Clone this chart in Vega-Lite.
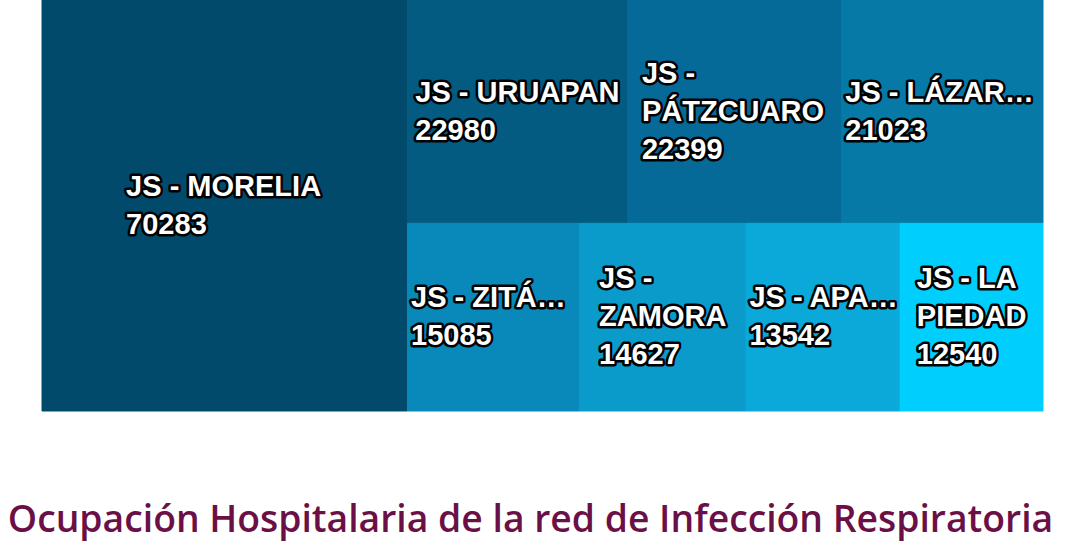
{
  "$schema": "https://vega.github.io/schema/vega-lite/v6.json",
  "width": 1001,
  "height": 411,
  "autosize": {"type": "none"},
  "padding": {"left": 42, "top": 0, "right": 47, "bottom": 139},
  "background": "white",
  "config": {"view": {"stroke": null}},
  "title": {
    "text": "Ocupación Hospitalaria de la red de Infección Respiratoria",
    "orient": "bottom",
    "anchor": "middle",
    "dx": -12,
    "offset": 120,
    "font": "Open Sans",
    "fontWeight": 600,
    "fontSize": 37.3,
    "color": "#6b1046",
    "baseline": "alphabetic"
  },
  "data": {
    "values": [
      {"jurisdiccion": "JS - MORELIA", "etiqueta": "JS - MORELIA", "ocupacion": 70283},
      {"jurisdiccion": "JS - URUAPAN", "etiqueta": "JS - URUAPAN", "ocupacion": 22980},
      {"jurisdiccion": "JS - PÁTZCUARO", "etiqueta": "JS -\nPÁTZCUARO", "ocupacion": 22399},
      {"jurisdiccion": "JS - LÁZARO CÁRDENAS", "etiqueta": "JS - LÁZARO CÁRDENAS", "ocupacion": 21023},
      {"jurisdiccion": "JS - ZITÁCUARO", "etiqueta": "JS - ZITÁCUARO", "ocupacion": 15085},
      {"jurisdiccion": "JS - ZAMORA", "etiqueta": "JS -\nZAMORA", "ocupacion": 14627},
      {"jurisdiccion": "JS - APATZINGÁN", "etiqueta": "JS - APATZINGÁN", "ocupacion": 13542},
      {"jurisdiccion": "JS - LA PIEDAD", "etiqueta": "JS - LA\nPIEDAD", "ocupacion": 12540}
    ]
  },
  "transform": [
    {"window": [{"op": "row_number", "as": "rango"}], "sort": [{"field": "ocupacion", "order": "descending"}]},
    {"calculate": "datum.rango == 1 ? 'A' : (datum.rango <= 4 ? 'B' : 'C')", "as": "grupo"},
    {"joinaggregate": [{"op": "sum", "field": "ocupacion", "as": "total"}]},
    {"joinaggregate": [{"op": "sum", "field": "ocupacion", "as": "sumGrupo"}], "groupby": ["grupo"]},
    {"window": [{"op": "sum", "field": "ocupacion", "as": "acum"}], "groupby": ["grupo"], "sort": [{"field": "ocupacion", "order": "descending"}], "frame": [null, 0]},
    {"calculate": "datum.grupo == 'A' ? datum.ocupacion : 0", "as": "vA"},
    {"calculate": "datum.grupo == 'B' ? datum.ocupacion : 0", "as": "vB"},
    {"joinaggregate": [{"op": "sum", "field": "vA", "as": "sumA"}, {"op": "sum", "field": "vB", "as": "sumB"}]},
    {"calculate": "datum.sumA / datum.total", "as": "fA"},
    {"calculate": "datum.sumB / (datum.total - datum.sumA)", "as": "fB"},
    {"calculate": "datum.grupo == 'A' ? 0 : datum.fA + (1 - datum.fA) * (datum.acum - datum.ocupacion) / datum.sumGrupo", "as": "x0"},
    {"calculate": "datum.grupo == 'A' ? datum.fA : datum.fA + (1 - datum.fA) * datum.acum / datum.sumGrupo", "as": "x1"},
    {"calculate": "datum.grupo == 'C' ? datum.fB : 0", "as": "y0"},
    {"calculate": "datum.grupo == 'B' ? datum.fB : 1", "as": "y1"},
    {"calculate": "(datum.y0 + datum.y1) / 2", "as": "yc"}
  ],
  "layer": [
    {
      "mark": {"type": "rect", "strokeWidth": 1},
      "encoding": {
        "x": {"field": "x0", "type": "quantitative", "scale": {"domain": [0, 1], "nice": false, "zero": false}, "axis": null},
        "x2": {"field": "x1"},
        "y": {"field": "y0", "type": "quantitative", "scale": {"domain": [0, 1], "nice": false, "zero": false, "reverse": true}, "axis": null},
        "y2": {"field": "y1"},
        "color": {
          "field": "jurisdiccion",
          "type": "nominal",
          "legend": null,
          "scale": {
            "domain": ["JS - MORELIA", "JS - URUAPAN", "JS - PÁTZCUARO", "JS - LÁZARO CÁRDENAS", "JS - ZITÁCUARO", "JS - ZAMORA", "JS - APATZINGÁN", "JS - LA PIEDAD"],
            "range": ["#024a6b", "#045b81", "#066a98", "#0679a7", "#0889b9", "#0a9bcb", "#0aa9d9", "#00cffe"]
          }
        },
        "stroke": {
          "field": "jurisdiccion",
          "type": "nominal",
          "legend": null,
          "scale": {
            "domain": ["JS - MORELIA", "JS - URUAPAN", "JS - PÁTZCUARO", "JS - LÁZARO CÁRDENAS", "JS - ZITÁCUARO", "JS - ZAMORA", "JS - APATZINGÁN", "JS - LA PIEDAD"],
            "range": ["#024a6b", "#045b81", "#066a98", "#0679a7", "#0889b9", "#0a9bcb", "#0aa9d9", "#00cffe"]
          }
        },
        "tooltip": [{"field": "jurisdiccion"}, {"field": "ocupacion", "type": "quantitative"}]
      }
    },
    {
      "transform": [
        {"calculate": "split(datum.etiqueta + '\\n' + datum.ocupacion, '\\n')", "as": "lineas"},
        {"flatten": ["lineas"], "as": ["linea"]},
        {"window": [{"op": "row_number", "as": "idx"}], "groupby": ["jurisdiccion"]},
        {"joinaggregate": [{"op": "count", "as": "nLineas"}], "groupby": ["jurisdiccion"]},
        {"calculate": "29 * (0.278 * length(replace(datum.linea, regexp('[^ I.]', 'g'), '')) + 0.333 * length(replace(datum.linea, regexp('[^-]', 'g'), '')) + 0.556 * length(replace(datum.linea, regexp('[^0-9J]', 'g'), '')) + 0.79 * length(replace(datum.linea, regexp('[^MOGQÓW]', 'g'), '')) + 0.70 * length(replace(datum.linea, regexp('[- I.0-9JMOGQÓW]', 'g'), ''))) + 5", "as": "anchoLinea"},
        {"joinaggregate": [{"op": "max", "field": "anchoLinea", "as": "bloque"}], "groupby": ["jurisdiccion"]}
      ],
      "encoding": {
        "x": {"field": "x0", "type": "quantitative"},
        "y": {"field": "yc", "type": "quantitative"},
        "text": {"field": "linea"}
      },
      "layer": [
        {
          "mark": {
            "type": "text",
            "align": "left",
            "baseline": "middle",
            "font": "Liberation Sans",
            "fontWeight": "bold",
            "fontSize": 29,
            "fill": "black",
            "stroke": "black",
            "strokeWidth": 5,
            "strokeJoin": "round",
            "limit": {"expr": "scale('x', datum.x1) - scale('x', datum.x0) - 2"},
            "dx": {"expr": "(scale('x', datum.x1) - scale('x', datum.x0) - min(datum.bloque, scale('x', datum.x1) - scale('x', datum.x0) - 2)) / 2 + 2.5"},
            "dy": {"expr": "(datum.idx - (datum.nLineas + 1) / 2) * 38"}
          }
        },
        {
          "mark": {
            "type": "text",
            "align": "left",
            "baseline": "middle",
            "font": "Liberation Sans",
            "fontWeight": "bold",
            "fontSize": 29,
            "fill": "white",
            "limit": {"expr": "scale('x', datum.x1) - scale('x', datum.x0) - 2"},
            "dx": {"expr": "(scale('x', datum.x1) - scale('x', datum.x0) - min(datum.bloque, scale('x', datum.x1) - scale('x', datum.x0) - 2)) / 2 + 2.5"},
            "dy": {"expr": "(datum.idx - (datum.nLineas + 1) / 2) * 38"}
          }
        }
      ]
    }
  ]
}
